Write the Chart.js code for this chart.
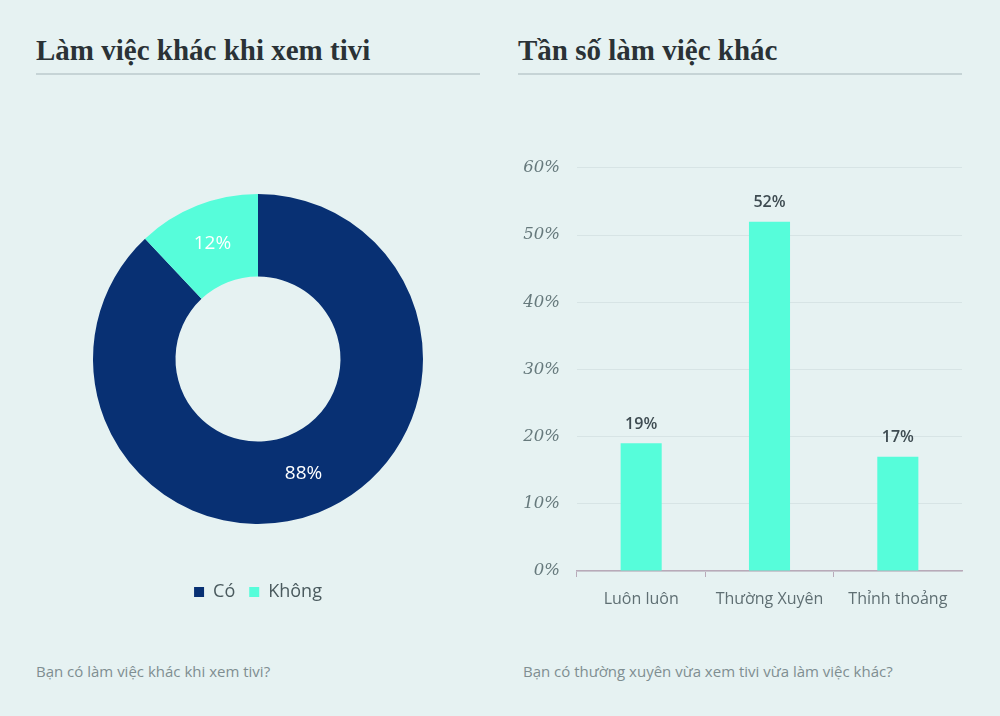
<!DOCTYPE html>
<html>
<head>
<meta charset="utf-8">
<script src="https://cdn.jsdelivr.net/npm/chart.js@4"></script>
<style>
  html, body { margin: 0; padding: 0; }
  body { width: 1000px; height: 716px; background: #e6f2f2; position: relative; overflow: hidden; }
  .title { position: absolute; top: 34px; font-family: "Liberation Serif", serif; font-weight: bold; font-size: 29px; color: #2a3236; white-space: nowrap; }
  .rule { position: absolute; top: 73px; height: 2px; background: #c6d4d6; }
  .note { position: absolute; top: 661px; font-family: "Open Sans", sans-serif; font-size: 15px; color: #7f8e91; white-space: nowrap; }
  #pie { position: absolute; left: 36px; top: 149px; }
  #bar { position: absolute; left: 500px; top: 141px; }
</style>
</head>
<body>
<div class="title" style="left:36px">Làm việc khác khi xem tivi</div>
<div class="rule" style="left:36px; width:444px"></div>
<div class="title" style="left:518px">Tần số làm việc khác</div>
<div class="rule" style="left:518px; width:444px"></div>

<canvas id="pie" width="444" height="462"></canvas>
<canvas id="bar" width="470" height="480"></canvas>

<div class="note" style="left:36px">Bạn có làm việc khác khi xem tivi?</div>
<div class="note" style="left:523px">Bạn có thường xuyên vừa xem tivi vừa làm việc khác?</div>

<script>
// donut data
var pieLabels = ["Có", "Không"];
var pieValues = [88, 12];
var pieColors = ["#083073", "#56fdda"];

// bar data
var barLabels = ["Luôn luôn", "Thường Xuyên", "Thỉnh thoảng"];
var barValues = [19, 52, 17];
var yTicks = [0, 10, 20, 30, 40, 50, 60];

var sansFont = "'Open Sans', sans-serif";

// percent text on the donut slices
var sliceLabels = {
  id: "sliceLabels",
  afterDatasetsDraw: function(chart) {
    var ctx = chart.ctx;
    var meta = chart.getDatasetMeta(0);
    ctx.save();
    ctx.fillStyle = "#ffffff";
    ctx.font = "19px " + sansFont;
    ctx.textAlign = "center";
    ctx.textBaseline = "middle";
    meta.data.forEach(function(arc, i) {
      var p = arc.getCenterPoint();
      ctx.fillText(pieValues[i] + "%", p.x, p.y);
    });
    ctx.restore();
  }
};

// value text above the bars
var barTopLabels = {
  id: "barTopLabels",
  afterDatasetsDraw: function(chart) {
    var ctx = chart.ctx;
    var meta = chart.getDatasetMeta(0);
    ctx.save();
    ctx.fillStyle = "#3e4b51";
    ctx.font = "600 16px " + sansFont;
    ctx.textAlign = "center";
    ctx.textBaseline = "middle";
    meta.data.forEach(function(bar, i) {
      ctx.fillText(barValues[i] + "%", bar.x, bar.y - 19);
    });
    ctx.restore();
  }
};

new Chart(document.getElementById("pie"), {
  type: "doughnut",
  data: {
    labels: pieLabels,
    datasets: [{
      data: pieValues,
      backgroundColor: pieColors,
      borderWidth: 0,
      hoverOffset: 0
    }]
  },
  options: {
    responsive: false,
    animation: false,
    radius: 165,
    cutout: "50%",
    plugins: {
      tooltip: { enabled: false },
      legend: {
        display: true,
        position: "bottom",
        labels: {
          boxWidth: 10,
          boxHeight: 10,
          padding: 14,
          color: "#4a5a5e",
          font: { family: sansFont, size: 18 }
        }
      }
    }
  },
  plugins: [sliceLabels]
});

new Chart(document.getElementById("bar"), {
  type: "bar",
  data: {
    labels: barLabels,
    datasets: [{
      data: barValues,
      backgroundColor: "#56fdda",
      borderWidth: 0,
      barPercentage: 0.32,
      categoryPercentage: 1
    }]
  },
  options: {
    responsive: false,
    animation: false,
    layout: { padding: { top: 16, right: 8 } },
    plugins: {
      legend: { display: false },
      tooltip: { enabled: false }
    },
    scales: {
      x: {
        afterFit: function(scale) { scale.height = 50; },
        border: { display: true, color: "#b9aab9", width: 1.5 },
        grid: {
          drawOnChartArea: false,
          drawTicks: true,
          tickLength: 6,
          color: function(c) { return c.type === "tick" ? "#b9aab9" : "rgba(0,0,0,0)"; }
        },
        ticks: {
          padding: 13,
          color: "#5f6f73",
          font: { family: sansFont, size: 16 }
        }
      },
      y: {
        min: yTicks[0],
        max: yTicks[yTicks.length - 1],
        afterFit: function(scale) { scale.width = 77; },
        afterBuildTicks: function(scale) {
          scale.ticks = yTicks.map(function(v) { return { value: v }; });
        },
        border: { display: false },
        grid: { color: "#d7e4e5", drawTicks: false },
        ticks: {
          padding: 17,
          color: "#66797c",
          font: { family: "'DejaVu Serif', serif", size: 16.5, style: "italic" },
          callback: function(v) { return v + "%"; }
        }
      }
    }
  },
  plugins: [barTopLabels]
});
</script>
</body>
</html>
